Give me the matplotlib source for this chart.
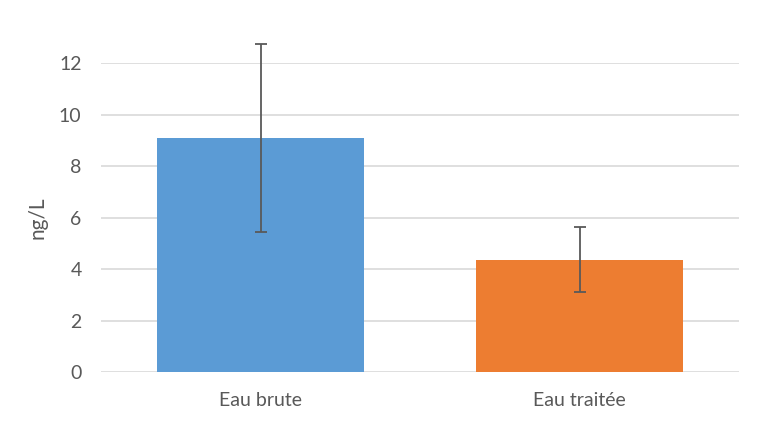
import numpy as np
from matplotlib import pyplot as plt

# data
categories = ['Eau brute', 'Eau traitée']
values = [9.1, 4.37]
errors = [3.66, 1.27]
colors = ['#5B9BD5', '#ED7D31']

plt.rcParams['font.family'] = ['Lato', 'DejaVu Sans']

fig = plt.figure(figsize=(7.6, 4.4), dpi=100)
ax = fig.add_axes([0.1329, 0.1539, 0.8395, 0.7022])

x = np.arange(len(categories))
ax.bar(x, values, width=0.65, color=colors, zorder=2)
eb = ax.errorbar(x, values, yerr=errors, fmt='none', ecolor='#595959',
                 elinewidth=1.3, capsize=4, capthick=1.3, zorder=3)
# the upper error bar runs past the top of the axis, as in the original
for part in list(eb.lines[1]) + list(eb.lines[2]):
    part.set_clip_on(False)

ax.set_xlim(-0.5, 1.5)
ax.set_ylim(0, 12)
ax.set_yticks(range(0, 13, 2))
ax.set_xticks(x)
ax.set_xticklabels(categories)
ax.yaxis.grid(True, color='#D9D9D9', linewidth=1.2, zorder=0)
ax.set_axisbelow(True)
for s in ax.spines.values():
    s.set_visible(False)
ax.tick_params(length=0, labelsize=14, colors='#595959')
ax.tick_params(axis='y', pad=14)
ax.tick_params(axis='x', pad=14)
ax.set_ylabel('ng/L', fontsize=15, color='#595959', labelpad=8)

plt.savefig('out.png')
